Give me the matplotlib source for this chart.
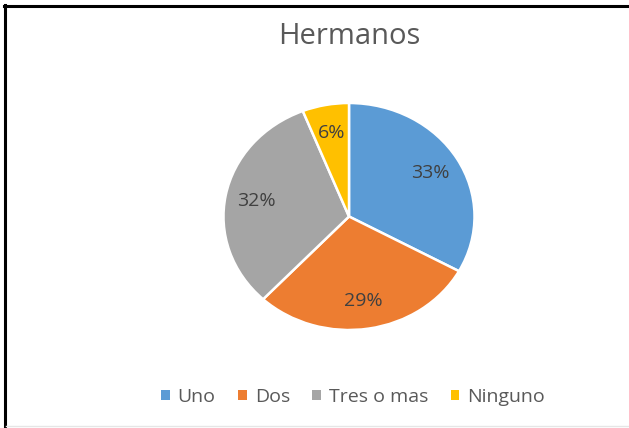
import matplotlib
matplotlib.use("Agg")
import matplotlib.pyplot as plt
from matplotlib.lines import Line2D
from matplotlib.patches import Patch

plt.rcParams["font.family"] = ["Open Sans", "DejaVu Sans"]

# ── データ
TITLE = "Hermanos"
categories = ["Uno", "Dos", "Tres o mas", "Ninguno"]
values = [33, 29, 32, 6]
colors = ["#5B9BD5", "#ED7D31", "#A5A5A5", "#FFC000"]

W, H = 629, 428
fig = plt.figure(figsize=(W / 100, H / 100), dpi=100)

# pie bounding box (pixels): x 223.5..474.5, y 103..330 (slightly stretched)
cx, cy, rx, ry = 349, 216.5, 125.5, 113.5
ax = fig.add_axes([(cx - rx) / W, (H - cy - ry) / H, 2 * rx / W, 2 * ry / H])
wedges, texts, autotexts = ax.pie(
    values, colors=colors, startangle=90, counterclock=False,
    autopct="%1.0f%%", pctdistance=0.75,
    wedgeprops=dict(edgecolor="white", linewidth=1.8),
    textprops=dict(color="#404040", fontsize=14))
ax.set_aspect("auto")
ax.set_xlim(-1, 1)
ax.set_ylim(-1, 1)

fig.text(cx / W, 1 - 37 / H, TITLE, ha="center", va="center",
         fontsize=21, color="#595959")

handles = [Patch(facecolor=c, edgecolor="none") for c in colors]
leg = fig.legend(handles, categories, loc="center", ncol=4,
                 bbox_to_anchor=(353 / W, 1 - 397 / H), frameon=False,
                 fontsize=14, handlelength=0.45, handleheight=0.45,
                 handletextpad=0.4, columnspacing=1.15)
for t in leg.get_texts():
    t.set_color("#595959")

# frame lines (left + top black, faint bottom)
fig.add_artist(Line2D([5 / W, 5 / W], [0, 1 - 5 / H], transform=fig.transFigure,
                      color="black", lw=2.2))
fig.add_artist(Line2D([4 / W, 1], [1 - 6 / H, 1 - 6 / H], transform=fig.transFigure,
                      color="black", lw=2.2))
fig.add_artist(Line2D([6 / W, 1], [2 / H, 2 / H], transform=fig.transFigure,
                      color="#e6e6e6", lw=1))

fig.savefig("out.png", dpi=100)
plt.close(fig)
